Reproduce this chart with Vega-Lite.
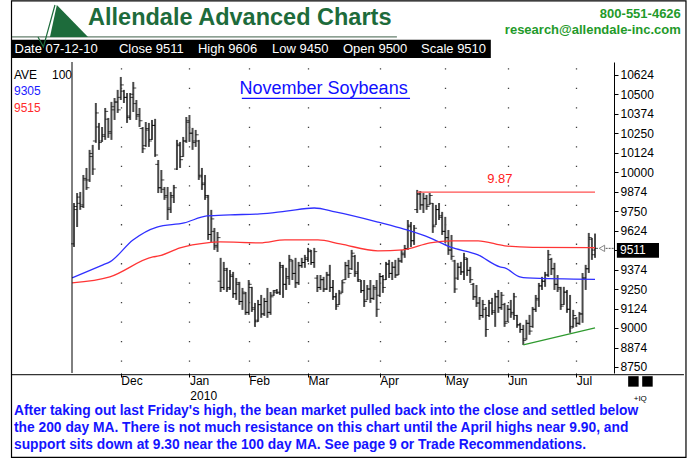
{
  "$schema": "https://vega.github.io/schema/vega-lite/v6.json",
  "width": 542,
  "height": 311,
  "autosize": "none",
  "padding": {"left": 72, "top": 62, "right": 75, "bottom": 86},
  "background": "white",
  "config": {"view": {"stroke": null}, "font": "Liberation Sans"},
  "resolve": {"axis": {"x": "independent", "y": "independent"}},
  "datasets": {
    "bars": [
      {"i":0,"o":9540,"h":9802,"l":9520,"c":9780},
      {"i":1,"o":9760,"h":9866,"l":9648,"c":9840},
      {"i":2,"o":9800,"h":9873,"l":9758,"c":9780},
      {"i":3,"o":9790,"h":9982,"l":9770,"c":9960},
      {"i":4,"o":9950,"h":10027,"l":9886,"c":9900},
      {"i":5,"o":9950,"h":10143,"l":9937,"c":10120},
      {"i":6,"o":10100,"h":10175,"l":9982,"c":10020},
      {"i":7,"o":10200,"h":10444,"l":10188,"c":10380},
      {"i":8,"o":10290,"h":10316,"l":10143,"c":10190},
      {"i":9,"o":10200,"h":10290,"l":10194,"c":10240},
      {"i":10,"o":10230,"h":10412,"l":10207,"c":10390},
      {"i":11,"o":10340,"h":10348,"l":10220,"c":10260},
      {"i":12,"o":10250,"h":10451,"l":10207,"c":10420},
      {"i":13,"o":10400,"h":10476,"l":10335,"c":10450},
      {"i":14,"o":10450,"h":10528,"l":10380,"c":10400},
      {"i":15,"o":10480,"h":10611,"l":10463,"c":10560},
      {"i":16,"o":10520,"h":10528,"l":10444,"c":10480},
      {"i":17,"o":10480,"h":10508,"l":10316,"c":10350},
      {"i":18,"o":10360,"h":10508,"l":10335,"c":10480},
      {"i":19,"o":10500,"h":10579,"l":10386,"c":10540},
      {"i":20,"o":10440,"h":10463,"l":10335,"c":10360},
      {"i":21,"o":10370,"h":10412,"l":10290,"c":10330},
      {"i":22,"o":10280,"h":10290,"l":10123,"c":10150},
      {"i":23,"o":10170,"h":10322,"l":10162,"c":10280},
      {"i":24,"o":10270,"h":10316,"l":10162,"c":10200},
      {"i":25,"o":10210,"h":10335,"l":10207,"c":10300},
      {"i":26,"o":10300,"h":10342,"l":10098,"c":10110},
      {"i":27,"o":10050,"h":10078,"l":9866,"c":9900},
      {"i":28,"o":9900,"h":10014,"l":9866,"c":9950},
      {"i":29,"o":9890,"h":9905,"l":9822,"c":9840},
      {"i":30,"o":9850,"h":9905,"l":9693,"c":9760},
      {"i":31,"o":9770,"h":9873,"l":9738,"c":9850},
      {"i":32,"o":9840,"h":9918,"l":9802,"c":9900},
      {"i":33,"o":10020,"h":10207,"l":10014,"c":10180},
      {"i":34,"o":10170,"h":10194,"l":10027,"c":10080},
      {"i":35,"o":10100,"h":10226,"l":10098,"c":10200},
      {"i":36,"o":10200,"h":10354,"l":10188,"c":10330},
      {"i":37,"o":10320,"h":10367,"l":10194,"c":10250},
      {"i":38,"o":10250,"h":10284,"l":10143,"c":10200},
      {"i":39,"o":10190,"h":10271,"l":10162,"c":10240},
      {"i":40,"o":10200,"h":10207,"l":9950,"c":9980},
      {"i":41,"o":9970,"h":10027,"l":9886,"c":9920},
      {"i":42,"o":9930,"h":9982,"l":9822,"c":9850},
      {"i":43,"o":9840,"h":9854,"l":9565,"c":9600},
      {"i":44,"o":9600,"h":9758,"l":9552,"c":9700},
      {"i":45,"o":9620,"h":9642,"l":9501,"c":9530},
      {"i":46,"o":9520,"h":9616,"l":9488,"c":9580},
      {"i":47,"o":9300,"h":9450,"l":9231,"c":9260},
      {"i":48,"o":9260,"h":9424,"l":9244,"c":9380},
      {"i":49,"o":9370,"h":9386,"l":9231,"c":9250},
      {"i":50,"o":9260,"h":9372,"l":9244,"c":9340},
      {"i":51,"o":9330,"h":9360,"l":9193,"c":9220},
      {"i":52,"o":9220,"h":9321,"l":9180,"c":9290},
      {"i":53,"o":9280,"h":9296,"l":9148,"c":9170},
      {"i":54,"o":9170,"h":9257,"l":9116,"c":9230},
      {"i":55,"o":9220,"h":9231,"l":9084,"c":9100},
      {"i":56,"o":9100,"h":9308,"l":9084,"c":9280},
      {"i":57,"o":9260,"h":9264,"l":9103,"c":9130},
      {"i":58,"o":9120,"h":9161,"l":9007,"c":9040},
      {"i":59,"o":9050,"h":9180,"l":9039,"c":9150},
      {"i":60,"o":9150,"h":9212,"l":9065,"c":9090},
      {"i":61,"o":9090,"h":9193,"l":9077,"c":9170},
      {"i":62,"o":9170,"h":9257,"l":9065,"c":9100},
      {"i":63,"o":9100,"h":9231,"l":9084,"c":9200},
      {"i":64,"o":9210,"h":9244,"l":9206,"c":9230},
      {"i":65,"o":9240,"h":9250,"l":9218,"c":9225},
      {"i":66,"o":9230,"h":9424,"l":9212,"c":9400},
      {"i":67,"o":9390,"h":9405,"l":9193,"c":9280},
      {"i":68,"o":9280,"h":9386,"l":9244,"c":9330},
      {"i":69,"o":9320,"h":9469,"l":9276,"c":9440},
      {"i":70,"o":9430,"h":9437,"l":9308,"c":9350},
      {"i":71,"o":9350,"h":9450,"l":9257,"c":9290},
      {"i":72,"o":9290,"h":9424,"l":9276,"c":9400},
      {"i":73,"o":9400,"h":9450,"l":9386,"c":9420},
      {"i":74,"o":9420,"h":9469,"l":9386,"c":9450},
      {"i":75,"o":9440,"h":9514,"l":9424,"c":9500},
      {"i":76,"o":9490,"h":9501,"l":9405,"c":9420},
      {"i":77,"o":9420,"h":9514,"l":9386,"c":9490},
      {"i":78,"o":9320,"h":9340,"l":9231,"c":9260},
      {"i":79,"o":9260,"h":9340,"l":9244,"c":9310},
      {"i":80,"o":9310,"h":9328,"l":9231,"c":9250},
      {"i":81,"o":9250,"h":9360,"l":9244,"c":9340},
      {"i":82,"o":9340,"h":9405,"l":9231,"c":9260},
      {"i":83,"o":9260,"h":9308,"l":9180,"c":9200},
      {"i":84,"o":9200,"h":9225,"l":9116,"c":9140},
      {"i":85,"o":9150,"h":9244,"l":9148,"c":9220},
      {"i":86,"o":9230,"h":9308,"l":9225,"c":9290},
      {"i":87,"o":9310,"h":9424,"l":9308,"c":9400},
      {"i":88,"o":9400,"h":9437,"l":9321,"c":9350},
      {"i":89,"o":9380,"h":9501,"l":9372,"c":9480},
      {"i":90,"o":9460,"h":9469,"l":9328,"c":9360},
      {"i":91,"o":9350,"h":9424,"l":9296,"c":9310},
      {"i":92,"o":9300,"h":9308,"l":9225,"c":9240},
      {"i":93,"o":9240,"h":9308,"l":9135,"c":9170},
      {"i":94,"o":9180,"h":9276,"l":9180,"c":9250},
      {"i":95,"o":9250,"h":9308,"l":9161,"c":9190},
      {"i":96,"o":9190,"h":9276,"l":9180,"c":9260},
      {"i":97,"o":9250,"h":9308,"l":9071,"c":9120},
      {"i":98,"o":9210,"h":9353,"l":9199,"c":9330},
      {"i":99,"o":9330,"h":9340,"l":9225,"c":9260},
      {"i":100,"o":9310,"h":9424,"l":9308,"c":9410},
      {"i":101,"o":9410,"h":9437,"l":9321,"c":9350},
      {"i":102,"o":9350,"h":9424,"l":9308,"c":9390},
      {"i":103,"o":9390,"h":9437,"l":9321,"c":9340},
      {"i":104,"o":9340,"h":9450,"l":9340,"c":9430},
      {"i":105,"o":9430,"h":9501,"l":9418,"c":9480},
      {"i":106,"o":9470,"h":9533,"l":9450,"c":9510},
      {"i":107,"o":9510,"h":9693,"l":9501,"c":9660},
      {"i":108,"o":9650,"h":9680,"l":9520,"c":9560},
      {"i":109,"o":9560,"h":9661,"l":9533,"c":9640},
      {"i":110,"o":9760,"h":9886,"l":9738,"c":9860},
      {"i":111,"o":9860,"h":9879,"l":9758,"c":9790},
      {"i":112,"o":9790,"h":9866,"l":9738,"c":9830},
      {"i":113,"o":9830,"h":9854,"l":9758,"c":9780},
      {"i":114,"o":9790,"h":9866,"l":9790,"c":9850},
      {"i":115,"o":9800,"h":9802,"l":9610,"c":9650},
      {"i":116,"o":9660,"h":9790,"l":9661,"c":9760},
      {"i":117,"o":9760,"h":9802,"l":9693,"c":9720},
      {"i":118,"o":9710,"h":9745,"l":9597,"c":9620},
      {"i":119,"o":9620,"h":9713,"l":9546,"c":9580},
      {"i":120,"o":9580,"h":9629,"l":9469,"c":9500},
      {"i":121,"o":9500,"h":9597,"l":9437,"c":9460},
      {"i":122,"o":9430,"h":9437,"l":9225,"c":9250},
      {"i":123,"o":9320,"h":9418,"l":9308,"c":9390},
      {"i":124,"o":9390,"h":9424,"l":9340,"c":9360},
      {"i":125,"o":9360,"h":9482,"l":9308,"c":9450},
      {"i":126,"o":9440,"h":9450,"l":9334,"c":9370},
      {"i":127,"o":9370,"h":9392,"l":9289,"c":9310},
      {"i":128,"o":9280,"h":9289,"l":9180,"c":9200},
      {"i":129,"o":9200,"h":9276,"l":9135,"c":9160},
      {"i":130,"o":9160,"h":9199,"l":9052,"c":9080},
      {"i":131,"o":9080,"h":9180,"l":9065,"c":9150},
      {"i":132,"o":9120,"h":9135,"l":8943,"c":8990},
      {"i":133,"o":9080,"h":9180,"l":9071,"c":9160},
      {"i":134,"o":9160,"h":9193,"l":9084,"c":9110},
      {"i":135,"o":9100,"h":9225,"l":9007,"c":9200},
      {"i":136,"o":9200,"h":9244,"l":9097,"c":9130},
      {"i":137,"o":9130,"h":9231,"l":9116,"c":9210},
      {"i":138,"o":9150,"h":9161,"l":9007,"c":9030},
      {"i":139,"o":9040,"h":9148,"l":9039,"c":9120},
      {"i":140,"o":9120,"h":9180,"l":9065,"c":9090},
      {"i":141,"o":9100,"h":9225,"l":9052,"c":9200},
      {"i":142,"o":9080,"h":9084,"l":9001,"c":9020},
      {"i":143,"o":9020,"h":9033,"l":8969,"c":8990},
      {"i":144,"o":8990,"h":9020,"l":8891,"c":8920},
      {"i":145,"o":8930,"h":9052,"l":8924,"c":9030},
      {"i":146,"o":9030,"h":9084,"l":8956,"c":8980},
      {"i":147,"o":9010,"h":9135,"l":9001,"c":9120},
      {"i":148,"o":9120,"h":9212,"l":9103,"c":9190},
      {"i":149,"o":9180,"h":9289,"l":9135,"c":9270},
      {"i":150,"o":9270,"h":9328,"l":9244,"c":9300},
      {"i":151,"o":9300,"h":9360,"l":9264,"c":9340},
      {"i":152,"o":9340,"h":9501,"l":9328,"c":9470},
      {"i":153,"o":9440,"h":9450,"l":9340,"c":9380},
      {"i":154,"o":9380,"h":9418,"l":9244,"c":9280},
      {"i":155,"o":9280,"h":9340,"l":9231,"c":9260},
      {"i":156,"o":9250,"h":9264,"l":9116,"c":9140},
      {"i":157,"o":9150,"h":9264,"l":9148,"c":9230},
      {"i":158,"o":9230,"h":9244,"l":9097,"c":9120},
      {"i":159,"o":9120,"h":9212,"l":8969,"c":9000},
      {"i":160,"o":9010,"h":9116,"l":9001,"c":9080},
      {"i":161,"o":9060,"h":9071,"l":9007,"c":9030},
      {"i":162,"o":9030,"h":9103,"l":9020,"c":9090},
      {"i":163,"o":9090,"h":9353,"l":9033,"c":9320},
      {"i":164,"o":9320,"h":9405,"l":9244,"c":9380},
      {"i":165,"o":9380,"h":9610,"l":9353,"c":9580},
      {"i":166,"o":9570,"h":9578,"l":9437,"c":9470},
      {"i":167,"o":9500,"h":9606,"l":9450,"c":9511}
    ],
    "ma100": [
      {"i":-0.6,"p":9321},{"i":9.3,"p":9405},{"i":11.5,"p":9424},{"i":18.9,"p":9565},
      {"i":26.6,"p":9648},{"i":35.3,"p":9674},{"i":42.6,"p":9719},{"i":50,"p":9726},
      {"i":59.6,"p":9732},{"i":68,"p":9750},{"i":77,"p":9770},{"i":83.7,"p":9745},
      {"i":97.4,"p":9680},{"i":104.5,"p":9642},{"i":106.7,"p":9629},{"i":114.1,"p":9578},
      {"i":120.5,"p":9520},{"i":129.5,"p":9469},{"i":136.5,"p":9392},{"i":138.1,"p":9385},
      {"i":142.9,"p":9328},{"i":145.2,"p":9321},{"i":167,"p":9312}
    ],
    "ma200": [
      {"i":-0.6,"p":9289},{"i":11.5,"p":9328},{"i":25.3,"p":9456},{"i":27.2,"p":9462},
      {"i":34,"p":9514},{"i":42.6,"p":9546},{"i":46.8,"p":9552},{"i":59.6,"p":9546},
      {"i":67.6,"p":9565},{"i":78.2,"p":9565},{"i":85.3,"p":9540},{"i":97.4,"p":9495},
      {"i":105.4,"p":9501},{"i":114.1,"p":9546},{"i":121.2,"p":9559},{"i":129.5,"p":9559},
      {"i":138.1,"p":9527},{"i":147.1,"p":9517},{"i":167,"p":9515}
    ]
  },
  "layer": [
    {
      "data": {"name": "bars"},
      "mark": {"type": "rule", "color": "#4a4a4a", "strokeWidth": 2},
      "encoding": {
        "x": {
          "field": "i", "type": "quantitative", "title": null,
          "scale": {"domain": [-0.64, 173.08], "nice": false, "zero": false},
          "axis": {
            "title": null, "orient": "bottom", "domain": false,
            "values": [15, 37, 56, 75, 98, 119, 139, 161],
            "labelExpr": "datum.value == 15 ? 'Dec' : datum.value == 37 ? 'Jan' : datum.value == 56 ? 'Feb' : datum.value == 75 ? 'Mar' : datum.value == 98 ? 'Apr' : datum.value == 119 ? 'May' : datum.value == 139 ? 'Jun' : 'Jul'",
            "labelAlign": "left", "labelBaseline": "top", "labelPadding": -2,
            "labelFont": "Liberation Sans", "labelFontSize": 12, "labelColor": "#000",
            "labelFlush": false, "labelOverlap": false,
            "tickSize": 4, "tickColor": "#000", "tickWidth": 1,
            "grid": true, "gridColor": "#000", "gridOpacity": 0.75, "gridWidth": 1.3,
            "gridDash": [1.3, 18.18], "gridDashOffset": 13.7
          }
        },
        "y": {
          "field": "l", "type": "quantitative", "title": null,
          "scale": {"domain": [8711, 10707], "nice": false, "zero": false},
          "axis": {
            "title": null, "orient": "right", "grid": false,
            "values": [8750, 8874, 9000, 9124, 9250, 9374, 9500, 9624, 9750, 9874, 10000, 10124, 10250, 10374, 10500, 10624],
            "labelExpr": "datum.value == 9500 ? '' : datum.value",
            "labelFont": "Liberation Sans", "labelFontSize": 12, "labelColor": "#000",
            "labelPadding": 2, "labelFlush": false, "labelOverlap": false, "labelSeparation": 0,
            "tickSize": 4, "tickColor": "#000", "domainColor": "#000", "domainWidth": 1
          }
        },
        "y2": {"field": "h"}
      }
    },
    {
      "data": {"name": "bars"},
      "mark": {"type": "tick", "orient": "horizontal", "size": 3, "thickness": 1, "xOffset": -1.5, "color": "#000"},
      "encoding": {
        "x": {"field": "i", "type": "quantitative", "axis": null},
        "y": {"field": "o", "type": "quantitative", "axis": null}
      }
    },
    {
      "data": {"name": "bars"},
      "mark": {"type": "tick", "orient": "horizontal", "size": 3, "thickness": 1, "xOffset": 1.5, "color": "#000"},
      "encoding": {
        "x": {"field": "i", "type": "quantitative", "axis": null},
        "y": {"field": "c", "type": "quantitative", "axis": null}
      }
    },
    {
      "data": {"name": "ma100"},
      "mark": {"type": "line", "color": "#3030ff", "strokeWidth": 1.3, "interpolate": "monotone"},
      "encoding": {
        "x": {"field": "i", "type": "quantitative", "axis": null},
        "y": {"field": "p", "type": "quantitative", "axis": null}
      }
    },
    {
      "data": {"name": "ma200"},
      "mark": {"type": "line", "color": "#ff3535", "strokeWidth": 1.3, "interpolate": "monotone"},
      "encoding": {
        "x": {"field": "i", "type": "quantitative", "axis": null},
        "y": {"field": "p", "type": "quantitative", "axis": null}
      }
    },
    {
      "data": {"values": [{"i": 110, "i2": 167, "p": 9872}]},
      "mark": {"type": "rule", "color": "#ff5050", "strokeWidth": 1.3},
      "encoding": {
        "x": {"field": "i", "type": "quantitative", "axis": null},
        "x2": {"field": "i2"},
        "y": {"field": "p", "type": "quantitative", "axis": null}
      }
    },
    {
      "data": {"values": [{"i": 136.5, "p": 9955, "t": "9.87"}]},
      "mark": {"type": "text", "color": "#ff2020", "fontSize": 13, "font": "Liberation Sans", "align": "center", "baseline": "middle"},
      "encoding": {
        "x": {"field": "i", "type": "quantitative", "axis": null},
        "y": {"field": "p", "type": "quantitative", "axis": null},
        "text": {"field": "t"}
      }
    },
    {
      "data": {"values": [{"i": 144, "p": 8891, "i2": 167, "p2": 9001}]},
      "mark": {"type": "rule", "color": "#2f9a2f", "strokeWidth": 1.3},
      "encoding": {
        "x": {"field": "i", "type": "quantitative", "axis": null},
        "y": {"field": "p", "type": "quantitative", "axis": null},
        "x2": {"field": "i2"},
        "y2": {"field": "p2"}
      }
    },
    {
      "data": {"values": [{"i": -0.64}]},
      "mark": {"type": "rule", "color": "#000", "strokeWidth": 1},
      "encoding": {"x": {"field": "i", "type": "quantitative", "axis": null}}
    },
    {
      "data": {"values": [{"i": -20.2, "i2": 195.5, "p": 8700}]},
      "mark": {"type": "rule", "color": "#000", "strokeWidth": 1},
      "encoding": {
        "x": {"field": "i", "type": "quantitative", "axis": null},
        "x2": {"field": "i2"},
        "y": {"field": "p", "type": "quantitative", "axis": null}
      }
    },
    {
      "data": {"values": [{"i": -20.03, "i2": 196.15, "p": 8169, "p2": 11098.9}]},
      "mark": {"type": "rect", "fill": null, "stroke": "#000", "strokeWidth": 1.2, "fillOpacity": 0},
      "encoding": {
        "x": {"field": "i", "type": "quantitative", "axis": null},
        "x2": {"field": "i2"},
        "y": {"field": "p", "type": "quantitative", "axis": null},
        "y2": {"field": "p2"}
      }
    },
    {
      "data": {"values": [{"i": 37.3, "p": 8562, "t": "2010"}]},
      "mark": {"type": "text", "color": "#000", "fontSize": 12, "font": "Liberation Sans", "align": "left", "baseline": "middle"},
      "encoding": {
        "x": {"field": "i", "type": "quantitative", "axis": null},
        "y": {"field": "p", "type": "quantitative", "axis": null},
        "text": {"field": "t"}
      }
    },
    {
      "data": {"values": [{"i": 80, "p": 10534, "t": "November Soybeans"}]},
      "mark": {"type": "text", "color": "#1010ff", "fontSize": 18, "font": "Liberation Sans", "align": "center", "baseline": "middle"},
      "encoding": {
        "x": {"field": "i", "type": "quantitative", "axis": null},
        "y": {"field": "p", "type": "quantitative", "axis": null},
        "text": {"field": "t"}
      }
    },
    {
      "data": {"values": [{"i": 53.8, "i2": 107.7, "p": 10473}]},
      "mark": {"type": "rule", "color": "#1010ff", "strokeWidth": 1.2},
      "encoding": {
        "x": {"field": "i", "type": "quantitative", "axis": null},
        "x2": {"field": "i2"},
        "y": {"field": "p", "type": "quantitative", "axis": null}
      }
    },
    {
      "data": {"values": [{"i": -19.23, "p": 10624, "t": "AVE"}, {"i": -7.05, "p": 10624, "t": "100"}]},
      "mark": {"type": "text", "color": "#000", "fontSize": 12, "font": "Liberation Sans", "align": "left", "baseline": "middle"},
      "encoding": {
        "x": {"field": "i", "type": "quantitative", "axis": null},
        "y": {"field": "p", "type": "quantitative", "axis": null},
        "text": {"field": "t"}
      }
    },
    {
      "data": {"values": [{"i": -19.23, "p": 10521, "t": "9305"}]},
      "mark": {"type": "text", "color": "#1a1aff", "fontSize": 12, "font": "Liberation Sans", "align": "left", "baseline": "middle"},
      "encoding": {
        "x": {"field": "i", "type": "quantitative", "axis": null},
        "y": {"field": "p", "type": "quantitative", "axis": null},
        "text": {"field": "t"}
      }
    },
    {
      "data": {"values": [{"i": -19.23, "p": 10412, "t": "9515"}]},
      "mark": {"type": "text", "color": "#ff2a2a", "fontSize": 12, "font": "Liberation Sans", "align": "left", "baseline": "middle"},
      "encoding": {
        "x": {"field": "i", "type": "quantitative", "axis": null},
        "y": {"field": "p", "type": "quantitative", "axis": null},
        "text": {"field": "t"}
      }
    },
    {
      "data": {"values": [{"i": 169.2, "p": 9511}]},
      "mark": {"type": "point", "shape": "triangle-left", "size": 40, "filled": false, "color": "#555", "strokeWidth": 1},
      "encoding": {
        "x": {"field": "i", "type": "quantitative", "axis": null},
        "y": {"field": "p", "type": "quantitative", "axis": null}
      }
    },
    {
      "data": {"values": [{"i": 170.4, "i2": 173.08, "p": 9511}]},
      "mark": {"type": "rule", "color": "#555", "strokeWidth": 1, "strokeDash": [2, 1]},
      "encoding": {
        "x": {"field": "i", "type": "quantitative", "axis": null},
        "x2": {"field": "i2"},
        "y": {"field": "p", "type": "quantitative", "axis": null}
      }
    },
    {
      "data": {"values": [{"i": 174.0, "i2": 187.5, "p": 9450, "p2": 9546}]},
      "mark": {"type": "rect", "color": "#000"},
      "encoding": {
        "x": {"field": "i", "type": "quantitative", "axis": null},
        "x2": {"field": "i2"},
        "y": {"field": "p", "type": "quantitative", "axis": null},
        "y2": {"field": "p2"}
      }
    },
    {
      "data": {"values": [{"i": 175.0, "p": 9498, "t": "9511"}]},
      "mark": {"type": "text", "color": "#fff", "fontSize": 12, "font": "Liberation Sans", "align": "left", "baseline": "middle"},
      "encoding": {
        "x": {"field": "i", "type": "quantitative", "axis": null},
        "y": {"field": "p", "type": "quantitative", "axis": null},
        "text": {"field": "t"}
      }
    },
    {
      "data": {"values": [{"i": -19.87, "i2": 133.6, "p": 10733, "p2": 10849}]},
      "mark": {"type": "rect", "color": "#000"},
      "encoding": {
        "x": {"field": "i", "type": "quantitative", "axis": null},
        "x2": {"field": "i2"},
        "y": {"field": "p", "type": "quantitative", "axis": null},
        "y2": {"field": "p2"}
      }
    },
    {
      "data": {"values": [
        {"i": -19.07, "p": 10792, "t": "Date 07-12-10"},
        {"i": 14.42, "p": 10792, "t": "Close 9511"},
        {"i": 39.74, "p": 10792, "t": "High 9606"},
        {"i": 63.46, "p": 10792, "t": "Low 9450"},
        {"i": 86.22, "p": 10792, "t": "Open 9500"},
        {"i": 111.22, "p": 10792, "t": "Scale 9510"}
      ]},
      "mark": {"type": "text", "color": "#fff", "fontSize": 13, "font": "Liberation Sans", "align": "left", "baseline": "middle"},
      "encoding": {
        "x": {"field": "i", "type": "quantitative", "axis": null},
        "y": {"field": "p", "type": "quantitative", "axis": null},
        "text": {"field": "t"}
      }
    },
    {
      "data": {"values": [{"i": -19.9, "i2": 103.5, "p": 10868}]},
      "mark": {"type": "rule", "color": "#3d5f48", "strokeWidth": 1},
      "encoding": {
        "x": {"field": "i", "type": "quantitative", "axis": null},
        "x2": {"field": "i2"},
        "y": {"field": "p", "type": "quantitative", "axis": null}
      }
    },
    {
      "data": {"values": [{"i": -11.54, "p": 10868}, {"i": -9.8, "p": 10804}, {"i": -6.1, "p": 11073}]},
      "mark": {"type": "line", "color": "#1d6b3b", "strokeWidth": 1.2},
      "encoding": {
        "x": {"field": "i", "type": "quantitative", "axis": null},
        "y": {"field": "p", "type": "quantitative", "axis": null}
      }
    },
    {
      "data": {"values": [{"i": -7.7, "p": 10868, "p2": 10868}, {"i": -5.5, "p": 11073, "p2": 10868}, {"i": 4.5, "p": 10868, "p2": 10868}]},
      "mark": {"type": "area", "color": "#1d6b3b", "opacity": 1},
      "encoding": {
        "x": {"field": "i", "type": "quantitative", "axis": null},
        "y": {"field": "p", "type": "quantitative", "axis": null},
        "y2": {"field": "p2"}
      }
    },
    {
      "data": {"values": [{"i": 4.5, "p": 10990, "t": "Allendale Advanced Charts"}]},
      "mark": {"type": "text", "color": "#1d6b3b", "fontSize": 23.5, "fontWeight": "bold", "font": "Liberation Sans", "align": "left", "baseline": "middle"},
      "encoding": {
        "x": {"field": "i", "type": "quantitative", "axis": null},
        "y": {"field": "p", "type": "quantitative", "axis": null},
        "text": {"field": "t"}
      }
    },
    {
      "data": {"values": [{"i": 194.5, "p": 11015, "t": "800-551-4626"}, {"i": 194.5, "p": 10913, "t": "research@allendale-inc.com"}]},
      "mark": {"type": "text", "color": "#1f9a2a", "fontSize": 13, "fontWeight": "bold", "font": "Liberation Sans", "align": "right", "baseline": "middle"},
      "encoding": {
        "x": {"field": "i", "type": "quantitative", "axis": null},
        "y": {"field": "p", "type": "quantitative", "axis": null},
        "text": {"field": "t"}
      }
    },
    {
      "data": {"values": [
        {"i": -19.23, "p": 8467, "t": "After taking out last Friday's high, the bean market pulled back into the close and settled below"},
        {"i": -19.23, "p": 8358, "t": "the 200 day MA. There is not much resistance on this chart until the April highs near 9.90, and"},
        {"i": -19.23, "p": 8249, "t": "support sits down at 9.30 near the 100 day MA. See page 9 or Trade Recommendations."}
      ]},
      "mark": {"type": "text", "color": "#1414ff", "fontSize": 13.8, "fontWeight": "bold", "font": "Liberation Sans", "align": "left", "baseline": "middle"},
      "encoding": {
        "x": {"field": "i", "type": "quantitative", "axis": null},
        "y": {"field": "p", "type": "quantitative", "axis": null},
        "text": {"field": "t"}
      }
    },
    {
      "data": {"values": [{"i": 179.3, "p": 8657}, {"i": 183.8, "p": 8657}]},
      "mark": {"type": "square", "color": "#000", "size": 110, "opacity": 1},
      "encoding": {
        "x": {"field": "i", "type": "quantitative", "axis": null},
        "y": {"field": "p", "type": "quantitative", "axis": null}
      }
    },
    {
      "data": {"values": [{"i": 181.5, "p": 8545, "t": "+IQ"}]},
      "mark": {"type": "text", "color": "#000", "fontSize": 8, "font": "Liberation Sans", "align": "center", "baseline": "middle"},
      "encoding": {
        "x": {"field": "i", "type": "quantitative", "axis": null},
        "y": {"field": "p", "type": "quantitative", "axis": null},
        "text": {"field": "t"}
      }
    }
  ]
}
